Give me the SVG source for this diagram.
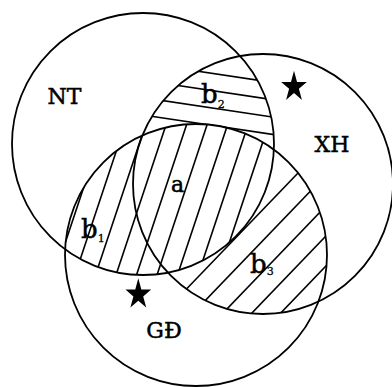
<svg xmlns="http://www.w3.org/2000/svg" width="392" height="387" viewBox="0 0 392 387">
<style>
.c{fill:none;stroke:#000;stroke-width:1.8}
.h{stroke:#000;stroke-width:1.6;fill:none}
.t{font-family:"DejaVu Serif","Liberation Serif",serif;fill:#000;stroke:#000;stroke-width:0.5}
.lab{font-size:22px;text-anchor:middle}
.b{font-size:26px}
.s{font-size:11px;stroke-width:0.3}
</style>
<defs>
<clipPath id="cNT"><circle cx="143" cy="144" r="131"/></clipPath>
<clipPath id="cXH"><circle cx="263" cy="184" r="130"/></clipPath>
<clipPath id="cGD"><circle cx="196" cy="255" r="131"/></clipPath>
<mask id="mNoGD" maskUnits="userSpaceOnUse" x="0" y="0" width="392" height="387"><rect width="392" height="387" fill="#fff"/><circle cx="196" cy="255" r="131" fill="#000"/></mask>
<mask id="mNoNT" maskUnits="userSpaceOnUse" x="0" y="0" width="392" height="387"><rect width="392" height="387" fill="#fff"/><circle cx="143" cy="144" r="131" fill="#000"/></mask>
<path id="star" d="M0,-16.2 L3.03,-5.01 L12.84,-5.01 L4.9,1.91 L7.94,13.11 L0,6.19 L-7.94,13.11 L-4.9,1.91 L-12.84,-5.01 L-3.03,-5.01 Z"/>
</defs>

<g id="hatching">
<g id="region-b2" clip-path="url(#cNT)"><g clip-path="url(#cXH)"><g mask="url(#mNoGD)" class="h">
<line x1="130" y1="61" x2="290" y2="85"/>
<line x1="130" y1="78.3" x2="290" y2="102.3"/>
<line x1="130" y1="95.7" x2="290" y2="119.7"/>
<line x1="130" y1="113" x2="290" y2="137"/>
</g></g></g>
<g id="region-a-b1" clip-path="url(#cNT)"><g clip-path="url(#cGD)" class="h">
<line x1="49.5" y1="290" x2="109.5" y2="110"/>
<line x1="70" y1="290" x2="130" y2="110"/>
<line x1="90.5" y1="290" x2="150.5" y2="110"/>
<line x1="111" y1="290" x2="171" y2="110"/>
<line x1="131.5" y1="290" x2="191.5" y2="110"/>
<line x1="152" y1="290" x2="212" y2="110"/>
<line x1="172.5" y1="290" x2="232.5" y2="110"/>
<line x1="193" y1="290" x2="253" y2="110"/>
<line x1="213.5" y1="290" x2="273.5" y2="110"/>
</g></g>
<g id="region-b3" clip-path="url(#cXH)"><g clip-path="url(#cGD)"><g mask="url(#mNoNT)" class="h">
<line x1="180" y1="295.8" x2="340" y2="129.4"/>
<line x1="180" y1="326.8" x2="340" y2="160.4"/>
<line x1="180" y1="357.8" x2="340" y2="191.4"/>
<line x1="180" y1="387.8" x2="340" y2="221.4"/>
<line x1="180" y1="417.8" x2="340" y2="251.4"/>
</g></g></g>
</g>

<g id="NT"><circle class="c" cx="143" cy="144" r="131"/><text class="t lab" x="64.5" y="104">NT</text></g>
<g id="XH"><circle class="c" cx="263" cy="184" r="130"/><text class="t lab" x="332" y="152">XH</text></g>
<g id="GD"><circle class="c" cx="196" cy="255" r="131"/><text class="t lab" x="164" y="338">GĐ</text></g>

<g id="labels">
<text class="t" x="171" y="192" font-size="22">a</text>
<text class="t b" x="201" y="103">b<tspan class="s" dy="4.5">2</tspan></text>
<text class="t b" x="81" y="238">b<tspan class="s" dy="4">1</tspan></text>
<text class="t b" x="250" y="273">b<tspan class="s" dy="2">3</tspan></text>
</g>

<g id="stars">
<use href="#star" x="294" y="86.9"/>
<use href="#star" x="138.3" y="294.5"/>
</g>
</svg>
